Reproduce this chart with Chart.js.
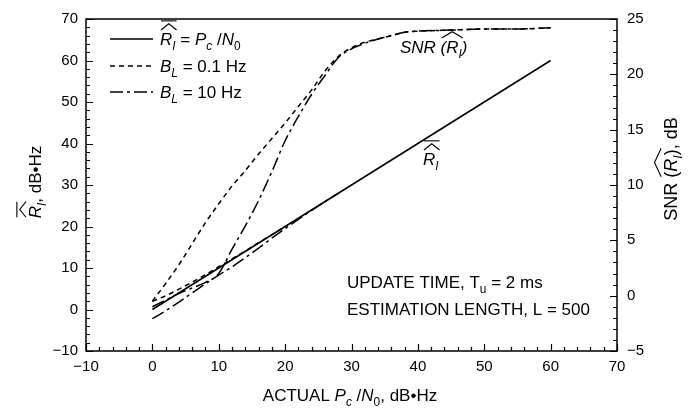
<!DOCTYPE html>
<html lang="en">
<head>
<meta charset="UTF-8">
<title>Estimated R_I vs actual Pc/N0</title>
<script src="https://cdn.jsdelivr.net/npm/chart.js"></script>
<style>
  html, body { margin: 0; padding: 0; background: #fff; }
  #wrap { width: 699px; height: 408px; }
</style>
</head>
<body>
<div id="wrap"><canvas id="chart" width="699" height="408"></canvas></div>
<script>
// ---- data ----
// actual Pc/N0, dB-Hz
const pcN0 = [0, 2, 4, 6, 8, 10, 12, 14, 16, 18, 20, 22, 24, 26, 28, 30, 32, 34, 36, 38, 40, 45, 50, 55, 60];
// ideal line R_I = Pc/N0 (left axis)
const idealX = [0, 60];
const idealY = [0, 60];
// estimated R_I, dB-Hz (left axis) until they join the ideal line
const rEstX01 = [0, 2, 4, 6, 8, 10, 12, 14, 16, 18, 20];
const rEstBL01 = [2.0, 3.3, 4.9, 6.6, 8.4, 10.3, 12.2, 14.1, 16.1, 18.0, 20.0];
const rEstX10 = [0, 2, 4, 6, 8, 10, 12, 14, 16, 18, 20, 22, 24, 26, 28];
const rEstBL10 = [-2.2, -0.3, 1.8, 4.0, 6.2, 8.3, 10.3, 12.5, 14.8, 17.2, 19.5, 21.7, 23.9, 26.0, 28.0];
// SNR of the estimate, dB (right axis)
const snrBL01 = [-0.5, 1.1, 2.8, 4.7, 6.6, 8.3, 9.9, 11.3, 12.8, 14.2, 15.6, 17.1, 18.6, 20.3, 21.6, 22.4, 22.9, 23.2, 23.5, 23.8, 23.9, 24.0, 24.1, 24.1, 24.2];
const snrBL10 = [-1.0, -0.4, 0.2, 0.7, 1.2, 2.0, 4.2, 6.3, 8.6, 11.2, 14.0, 16.2, 18.2, 19.9, 21.5, 22.3, 22.8, 23.2, 23.5, 23.8, 23.9, 24.0, 24.1, 24.1, 24.2];

const FAM = '"Liberation Sans", Arial, Helvetica, sans-serif';
const DASH = [5, 4];
const DASHDOT = [13, 4, 3, 4];

const pts = (xs, ys) => xs.map((x, i) => ({ x: x, y: ys[i] }));

// draws text made of parts: {t, i: italic, s: subscript, hat: n parts covered, bar: true}
function drawRich(ctx, parts, x, y, size, align) {
    const items = parts.map(p => {
        const sz = p.s ? size * 0.7 : size;
        ctx.font = (p.i ? 'italic ' : '') + sz + 'px ' + FAM;
        return { p: p, sz: sz, w: ctx.measureText(p.t).width };
    });
    const total = items.reduce((a, b) => a + b.w, 0);
    let cx = align === 'center' ? x - total / 2 : x;
    ctx.textAlign = 'left';
    ctx.textBaseline = 'alphabetic';
    ctx.lineWidth = 1.1;
    items.forEach((it, k) => {
        ctx.font = (it.p.i ? 'italic ' : '') + it.sz + 'px ' + FAM;
        ctx.fillText(it.p.t, cx, y + (it.p.s ? size * 0.3 : 0));
        if (it.p.hat) {
            let w = 0;
            for (let j = k; j < k + it.p.hat; j++) w += items[j].w;
            const base = y - size * 0.88, peak = y - size * 1.25;
            ctx.beginPath();
            ctx.moveTo(cx + 1, base);
            ctx.lineTo(cx + w / 2 + 1, peak);
            ctx.lineTo(cx + w + 1, base);
            ctx.stroke();
            if (it.p.bar) {
                ctx.beginPath();
                ctx.moveTo(cx + 1, y - size * 1.42);
                ctx.lineTo(cx + w + 1, y - size * 1.42);
                ctx.stroke();
            }
        }
        cx += it.w;
    });
}

const decorations = {
    id: 'decorations',
    afterDraw(chart) {
        const ctx = chart.ctx;
        const a = chart.chartArea;
        const sx = chart.scales.x, sy = chart.scales.y, sy1 = chart.scales.y1;
        ctx.save();
        ctx.strokeStyle = '#000';
        ctx.fillStyle = '#000';

        // frame
        ctx.lineWidth = 1.5;
        ctx.strokeRect(a.left, a.top, a.right - a.left, a.bottom - a.top);

        // inward ticks
        ctx.lineWidth = 1.2;
        ctx.beginPath();
        for (let v = -10; v <= 70; v += 2) {
            const len = v % 10 === 0 ? 7 : 4;
            const px = Math.round(sx.getPixelForValue(v)) + 0.5;
            ctx.moveTo(px, a.bottom); ctx.lineTo(px, a.bottom - len);
            const py = Math.round(sy.getPixelForValue(v)) + 0.5;
            ctx.moveTo(a.left, py); ctx.lineTo(a.left + len, py);
        }
        for (let v = -5; v <= 25; v += 1) {
            const len = v % 5 === 0 ? 7 : 4;
            const py = Math.round(sy1.getPixelForValue(v)) + 0.5;
            ctx.moveTo(a.right, py); ctx.lineTo(a.right - len, py);
        }
        ctx.stroke();

        // legend
        const rows = [
            { y: 39, dash: [], label: [{ t: 'R', i: true, hat: 2, bar: true }, { t: 'I', i: true, s: true }, { t: ' = ' }, { t: 'P', i: true }, { t: 'c', i: true, s: true }, { t: ' /' }, { t: 'N', i: true }, { t: '0', s: true }] },
            { y: 66, dash: DASH, label: [{ t: 'B', i: true }, { t: 'L', i: true, s: true }, { t: ' = 0.1 Hz' }] },
            { y: 92, dash: DASHDOT, label: [{ t: 'B', i: true }, { t: 'L', i: true, s: true }, { t: ' = 10 Hz' }] }
        ];
        rows.forEach(r => {
            ctx.lineWidth = 1.5;
            ctx.setLineDash(r.dash);
            ctx.beginPath();
            ctx.moveTo(110, r.y); ctx.lineTo(153, r.y);
            ctx.stroke();
            ctx.setLineDash([]);
            drawRich(ctx, r.label, 160, r.y + 6, 17, 'left');
        });

        // curve labels
        drawRich(ctx, [{ t: 'SNR ', i: true }, { t: '(', i: true, hat: 3 }, { t: 'R', i: true }, { t: 'I', i: true, s: true }, { t: ')', i: true }], 400, 53, 17, 'left');
        drawRich(ctx, [{ t: 'R', i: true, hat: 2, bar: true }, { t: 'I', i: true, s: true }], 423, 165, 17, 'left');

        // notes
        drawRich(ctx, [{ t: 'UPDATE TIME, T' }, { t: 'u', s: true }, { t: ' = 2 ms' }], 347, 288, 17, 'left');
        drawRich(ctx, [{ t: 'ESTIMATION LENGTH, L = 500' }], 347, 315, 17, 'left');

        // axis titles
        drawRich(ctx, [{ t: 'ACTUAL ' }, { t: 'P', i: true }, { t: 'c', i: true, s: true }, { t: ' /' }, { t: 'N', i: true }, { t: '0', s: true }, { t: ', dB\u2022Hz' }], 350, 401, 17, 'center');

        ctx.save();
        ctx.translate(35, 182);
        ctx.rotate(-Math.PI / 2);
        drawRich(ctx, [{ t: 'R', i: true, hat: 2, bar: true }, { t: 'I', i: true, s: true }, { t: ', dB\u2022Hz' }], 0, 6, 17, 'center');
        ctx.restore();

        ctx.save();
        ctx.translate(671, 169);
        ctx.rotate(-Math.PI / 2);
        drawRich(ctx, [{ t: 'SNR ' }, { t: '(', hat: 4 }, { t: 'R', i: true }, { t: 'I', i: true, s: true }, { t: ')' }, { t: ', dB' }], 0, 6, 18, 'center');
        ctx.restore();

        ctx.restore();
    }
};

const tickFont = { family: FAM, size: 15 };
const minus = v => String(v).replace('-', '\u2212');

const line = (label, data, axis, dash) => ({
    label: label,
    data: data,
    yAxisID: axis,
    borderColor: '#000',
    borderWidth: 1.5,
    borderDash: dash,
    pointRadius: 0,
    fill: false,
    cubicInterpolationMode: 'monotone'
});

new Chart(document.getElementById('chart'), {
    type: 'line',
    data: {
        datasets: [
            line('R_I = Pc/N0', pts(idealX, idealY), 'y', []),
            line('R_I est, BL = 0.1 Hz', pts(rEstX01, rEstBL01), 'y', DASH),
            line('R_I est, BL = 10 Hz', pts(rEstX10, rEstBL10), 'y', DASHDOT),
            line('SNR, BL = 0.1 Hz', pts(pcN0, snrBL01), 'y1', DASH),
            line('SNR, BL = 10 Hz', pts(pcN0, snrBL10), 'y1', DASHDOT)
        ]
    },
    options: {
        responsive: false,
        animation: false,
        devicePixelRatio: 1,
        layout: { padding: { top: 11, left: 0, right: 0, bottom: 0 } },
        plugins: { legend: { display: false }, tooltip: { enabled: false } },
        scales: {
            x: {
                type: 'linear', min: -10, max: 70,
                ticks: { stepSize: 10, padding: 7, font: tickFont, color: '#000', callback: minus, maxRotation: 0 },
                grid: { display: false, drawTicks: false },
                border: { display: false },
                afterFit: s => { s.height = 57; }
            },
            y: {
                position: 'left', min: -10, max: 70,
                ticks: { stepSize: 10, padding: 8, font: tickFont, color: '#000', callback: minus },
                grid: { display: false, drawTicks: false },
                border: { display: false },
                afterFit: s => { s.width = 86; }
            },
            y1: {
                position: 'right', min: -5, max: 25,
                ticks: { stepSize: 5, padding: 10, font: tickFont, color: '#000', callback: minus },
                grid: { display: false, drawTicks: false },
                border: { display: false },
                afterFit: s => { s.width = 82; }
            }
        }
    },
    plugins: [decorations]
});
</script>
</body>
</html>
